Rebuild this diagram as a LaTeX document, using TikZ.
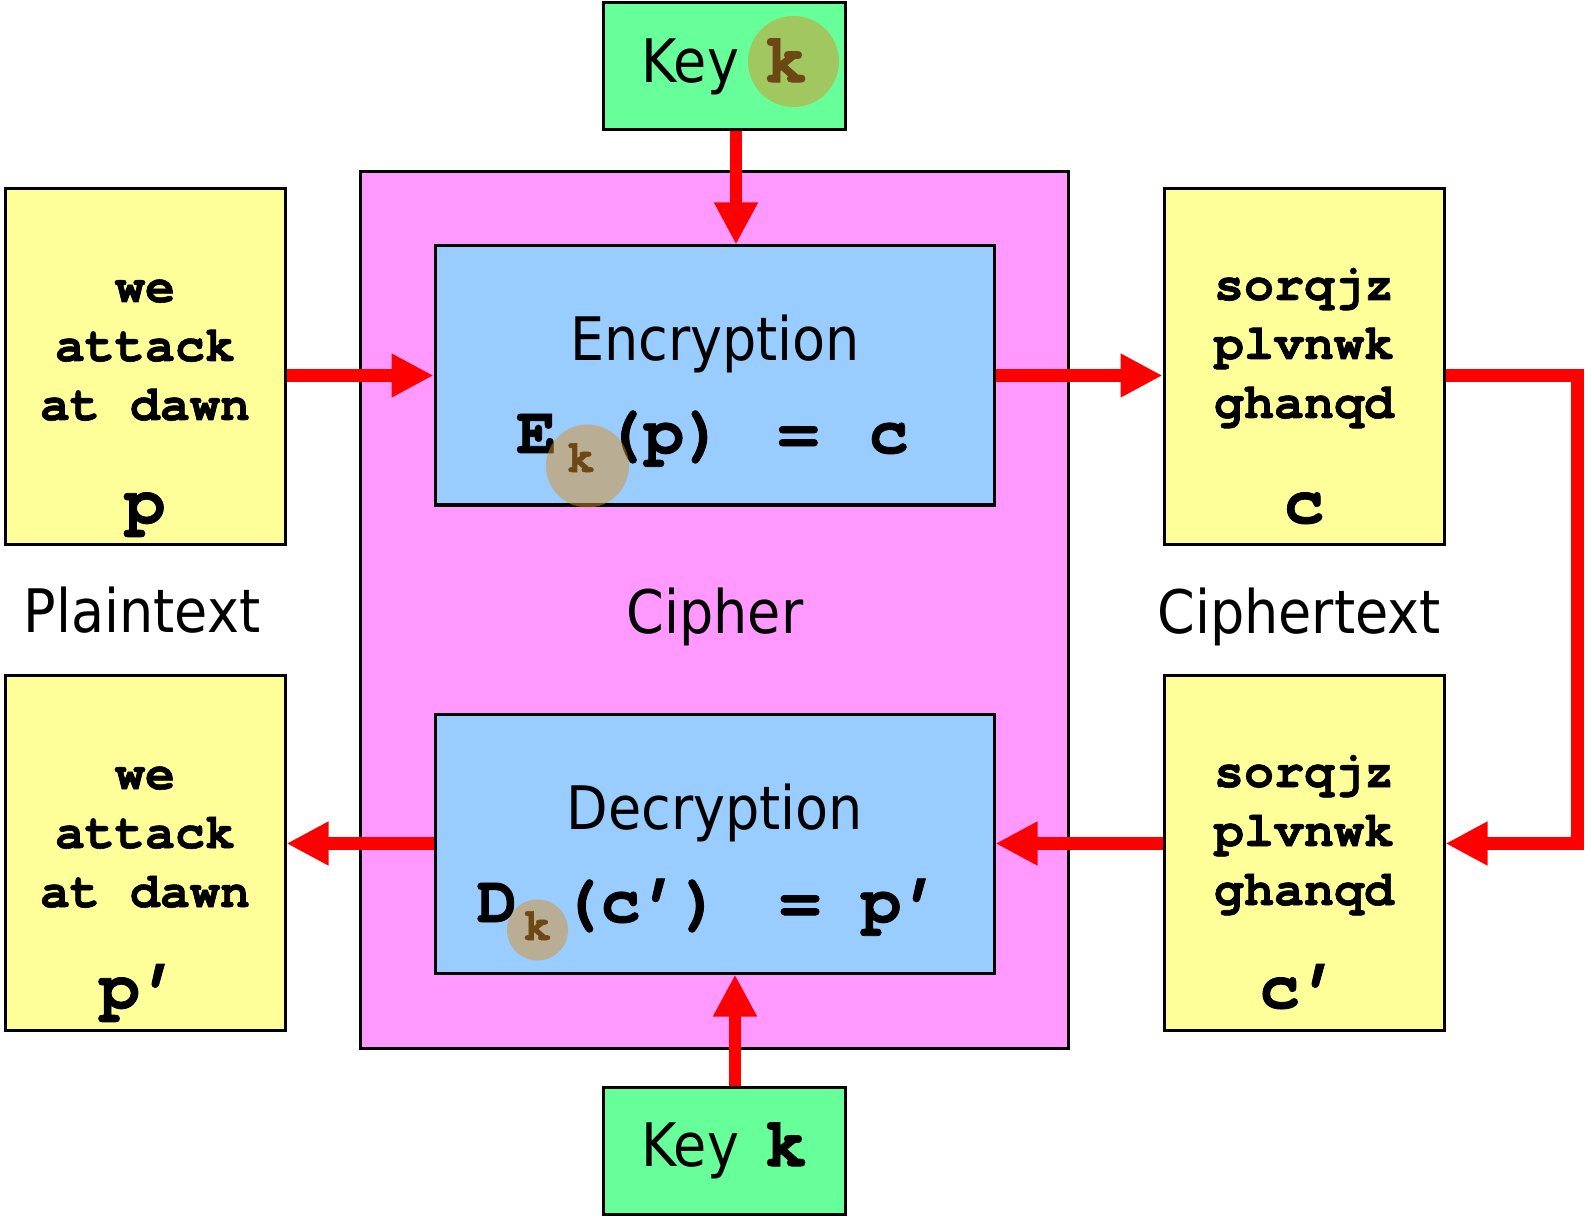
\documentclass[tikz,border=0pt]{standalone}
\usepackage{fontspec}
\setmainfont{DejaVu Sans}[FakeStretch=0.9]
\newfontfamily\codefont{texgyrecursor}[Extension=.otf,UprightFont=*-regular,BoldFont=*-bold,BoldFeatures={FakeBold=1.2}]
\usetikzlibrary{arrows.meta,calc}

\definecolor{keygreen}{RGB}{102,255,153}
\definecolor{cipherpink}{RGB}{255,153,255}
\definecolor{stageblue}{RGB}{153,204,255}
\definecolor{textyellow}{RGB}{255,255,153}
\definecolor{hilitecol}{RGB}{218,145,40}

\newcommand{\labelfont}{\fontsize{30}{36}\selectfont}
\newcommand{\codetext}{\codefont\bfseries\fontsize{25}{29.5}\selectfont}
\newcommand{\bigvar}{\codefont\bfseries\fontsize{34}{40}\selectfont}
\newcommand{\formfont}{\codefont\bfseries\fontsize{33.5}{40}\selectfont}
\newcommand{\subfont}{\codefont\bfseries\fontsize{23}{28}\selectfont}
\newcommand{\keyk}{{\codefont\bfseries\fontsize{35}{40}\selectfont k}}

\begin{document}
\begin{tikzpicture}[x=0.5pt,y=-0.5pt]

\tikzset{
    box/.style={draw,line width=1.5pt,inner sep=0pt},
    keybox/.style={box,fill=keygreen,minimum width=121pt,minimum height=63.5pt,font=\labelfont},
    textbox/.style={box,fill=textyellow,minimum width=140pt,minimum height=177.5pt},
    stagebox/.style={box,fill=stageblue,minimum width=279.5pt,minimum height=129.5pt},
    flow/.style={draw=red,line width=6.25pt,-{Triangle[width=20.5pt,length=21pt]}},
    hilite/.style={fill=hilitecol,fill opacity=0.5}}

\useasboundingbox (0,0) rectangle (1594,1224);

\node[box,fill=cipherpink,minimum width=354pt,minimum height=438pt] (cipher) at (714,610) {};
\node[stagebox] (enc) at (714.5,375.5) {};
\node[stagebox] (dec) at (714.5,843.5) {};

\node[textbox] (ptop) at (145,366.5) {};
\node[textbox] (pbot) at (145,853) {};
\node[textbox] (ctop) at (1304,366.5) {};
\node[textbox] (cbot) at (1304,853) {};

\node[keybox] (keyT) at (724,66.5) {Key\hspace{13pt}\keyk};
\node[keybox] (keyB) at (724,1150.5) {Key\hspace{13pt}\keyk};

% texts (base = last line)
\node[anchor=base,align=center,font=\codetext] (ptopTxt) at (145,420) {we\\attack\\at dawn};
\node[anchor=base,align=center,font=\codetext] (pbotTxt) at (145,907) {we\\attack\\at dawn};
\node[anchor=base,align=center,font=\codetext] (ctopTxt) at (1304,418) {sorqjz\\plvnwk\\ghanqd};
\node[anchor=base,align=center,font=\codetext] (cbotTxt) at (1304,905) {sorqjz\\plvnwk\\ghanqd};

\node[anchor=base,font=\bigvar] (pVar) at (145,523) {p};
\node[anchor=base,font=\bigvar] (pVarB) at (140,1008) {p’};
\node[anchor=base,font=\bigvar] (cVar) at (1304,523) {c};
\node[anchor=base,font=\bigvar] (cVarB) at (1300,1008) {c’};

\node[anchor=base,font=\labelfont] (encTitle) at (715,361) {Encryption};
\node[anchor=base,font=\labelfont] (decTitle) at (715,829) {Decryption};
\node[anchor=base,font=\labelfont] (ptLabel) at (142,632) {Plaintext};
\node[anchor=base,font=\labelfont] (cipherLabel) at (715,633) {Cipher};
\node[anchor=base,font=\labelfont] (ctLabel) at (1299,633) {Ciphertext};

\node[anchor=base west,inner sep=0pt,font=\formfont] (encEq) at (516,453)
    {E\hspace{5.25pt}\raisebox{-9.5pt}{\subfont k}\hspace{4.5pt}(p)\hspace{27pt}=\hspace{25pt}c};
\node[anchor=base west,inner sep=0pt,font=\formfont] (decEq) at (476.5,922)
    {D\hspace{3.25pt}\raisebox{-9pt}{\subfont k}\hspace{4.5pt}(c’)\hspace{29.5pt}=\hspace{20.5pt}p’};

% arrows
\draw[flow] ([xshift=6pt]keyT.south) -- ([xshift=6pt]keyT.south |- enc.north);
\draw[flow] (ptop.east |- enc.west) -- (enc.west);
\draw[flow] (enc.east) -- (ctop.west |- enc.east);
\draw[flow] (ctop.east |- enc.east) -- ++(132,0) |- (cbot.east |- dec.east);
\draw[flow] (cbot.west |- dec.east) -- (dec.east);
\draw[flow] (dec.west) -- (pbot.east |- dec.west);
\draw[flow] ([xshift=5.5pt]keyB.north) -- ([xshift=5.5pt]keyB.north |- dec.south);

% highlights
\fill[hilite] (793.5,61.5) circle (45.5);
\fill[hilite] (587.5,466) circle (41.5);
\fill[hilite] (537.5,930) circle (30.5);

\end{tikzpicture}
\end{document}
